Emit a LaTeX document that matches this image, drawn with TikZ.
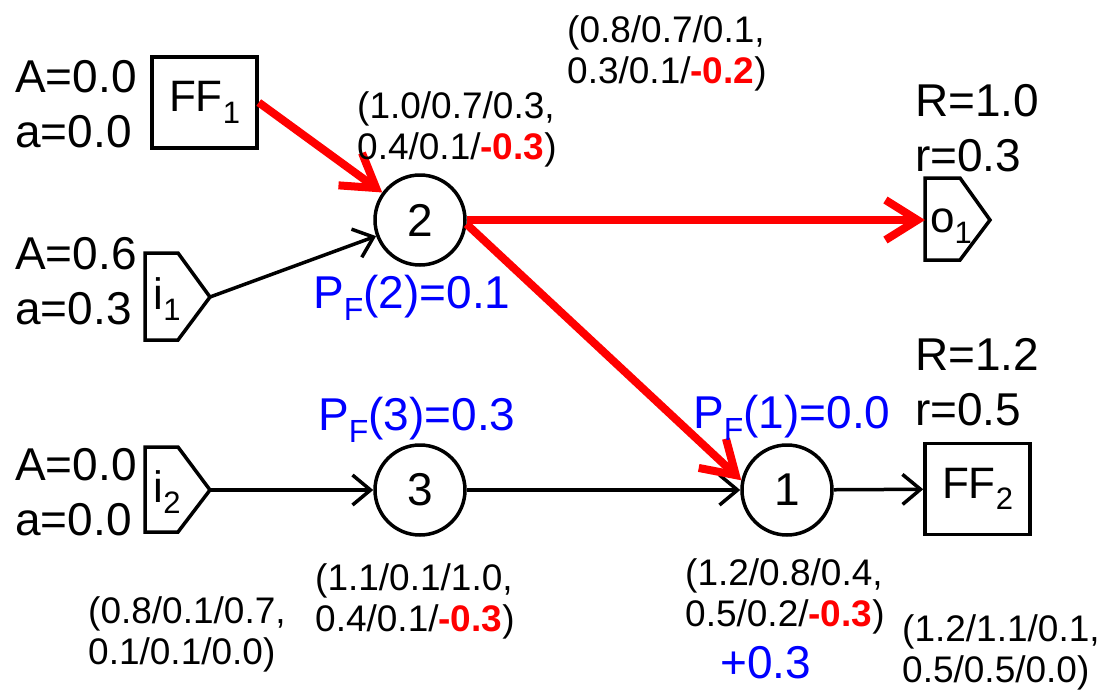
\documentclass[tikz,border=0pt]{standalone}
\usepackage{fontspec}
\setmainfont{Liberation Sans}
\usetikzlibrary{arrows.meta}
\newcommand\lowsub[2]{\raisebox{-0.26em}{\fontsize{#1}{#1}\selectfont #2}}
\begin{document}
\begin{tikzpicture}[x=1pt,y=-1pt,
  big/.style={font=\fontsize{46}{55}\selectfont, inner sep=0pt, anchor=west, align=left},
  small/.style={font=\fontsize{37}{41}\selectfont, inner sep=0pt, anchor=west, align=left},
  pf/.style={font=\fontsize{46}{55}\selectfont, text=blue, inner sep=0pt, anchor=west},
  ffbox/.style={draw, line width=3.5pt, minimum width=105pt, minimum height=91pt, inner sep=0pt, font=\fontsize{44}{44}\selectfont},
  gatenode/.style={circle, draw, line width=3.5pt, minimum size=90pt, inner sep=0pt, font=\fontsize{46}{46}\selectfont},
  gate/.style={draw, line width=3.5pt, line join=miter},
  gatelabel/.style={inner sep=0pt, font=\fontsize{44}{44}\selectfont},
  blk/.style={draw, line width=3.5pt, -{Straight Barb[length=18pt,width=30pt]}},
  redarr/.style={draw=red, line width=8pt, -{Straight Barb[length=32pt,width=40pt]}}
]
\useasboundingbox (0,0) rectangle (1101,689);

% flip-flops
\node[ffbox] (ff1) at (204.5,102.5) {FF\lowsub{31}{1}};
\node[ffbox] (ff2) at (977.5,489) {FF\lowsub{31}{2}};

% gates
\node[gatenode] (n2) at (420,220) {2};
\node[gatenode] (n3) at (420,490) {3};
\node[gatenode] (n1) at (787,490) {1};

% primary inputs / output
\draw[gate] (145,253) -- (178,253) -- (210,297) -- (178,340) -- (145,340) -- cycle;
\coordinate (i1) at (210,297);
\node[gatelabel] (i1l) at (167,299) {i\lowsub{31}{1}};

\draw[gate] (145,447) -- (178,447) -- (210,490) -- (178,532) -- (145,532) -- cycle;
\coordinate (i2) at (210,490);
\node[gatelabel] (i2l) at (167,492) {i\lowsub{31}{2}};

\draw[gate] (925,178) -- (960,178) -- (990,220) -- (960,260) -- (925,260) -- cycle;
\coordinate (o1) at (925,220);
\node[gatelabel] (o1l) at (951,226) {o\lowsub{31}{1}};

% connectors
\draw[blk] (i1) -- (n2);
\draw[blk] (i2) -- (n3);
\draw[blk] (n3) -- (n1);
\draw[blk] (n1) -- (ff2);
\draw[redarr] (ff1.east) -- (n2);
\draw[redarr] (n2.east) -- (o1);
\draw[redarr] (n2.-5) -- (n1.168);

% labels
\node[big] (lff1) at (15,104) {A=0.0\\a=0.0};
\node[big] (li1) at (15,281) {A=0.6\\a=0.3};
\node[big] (li2) at (15,492) {A=0.0\\a=0.0};
\node[big] (lo1) at (915,128) {R=1.0\\r=0.3};
\node[big] (lff2) at (915,382) {R=1.2\\r=0.5};

\node[small] (t1) at (567,53) {(0.8/0.7/0.1,\\0.3/0.1/\textcolor{red}{\textbf{-0.2}})};
\node[small] (t2) at (357,129) {(1.0/0.7/0.3,\\0.4/0.1/\textcolor{red}{\textbf{-0.3}})};
\node[small] (t3) at (315,601) {(1.1/0.1/1.0,\\0.4/0.1/\textcolor{red}{\textbf{-0.3}})};
\node[small] (t4) at (685,596) {(1.2/0.8/0.4,\\0.5/0.2/\textcolor{red}{\textbf{-0.3}})};
\node[small] (t5) at (902,652) {(1.2/1.1/0.1,\\0.5/0.5/0.0)};
\node[small] (t6) at (88,634) {(0.8/0.1/0.7,\\0.1/0.1/0.0)};

\node[pf] (p2) at (313,298) {P\lowsub{32}{F}(2)=0.1};
\node[pf] (p3) at (318,420) {P\lowsub{32}{F}(3)=0.3};
\node[pf] (p1) at (693,418) {P\lowsub{32}{F}(1)=0.0};
\node[pf] (plus) at (720,663) {+0.3};
\end{tikzpicture}
\end{document}
